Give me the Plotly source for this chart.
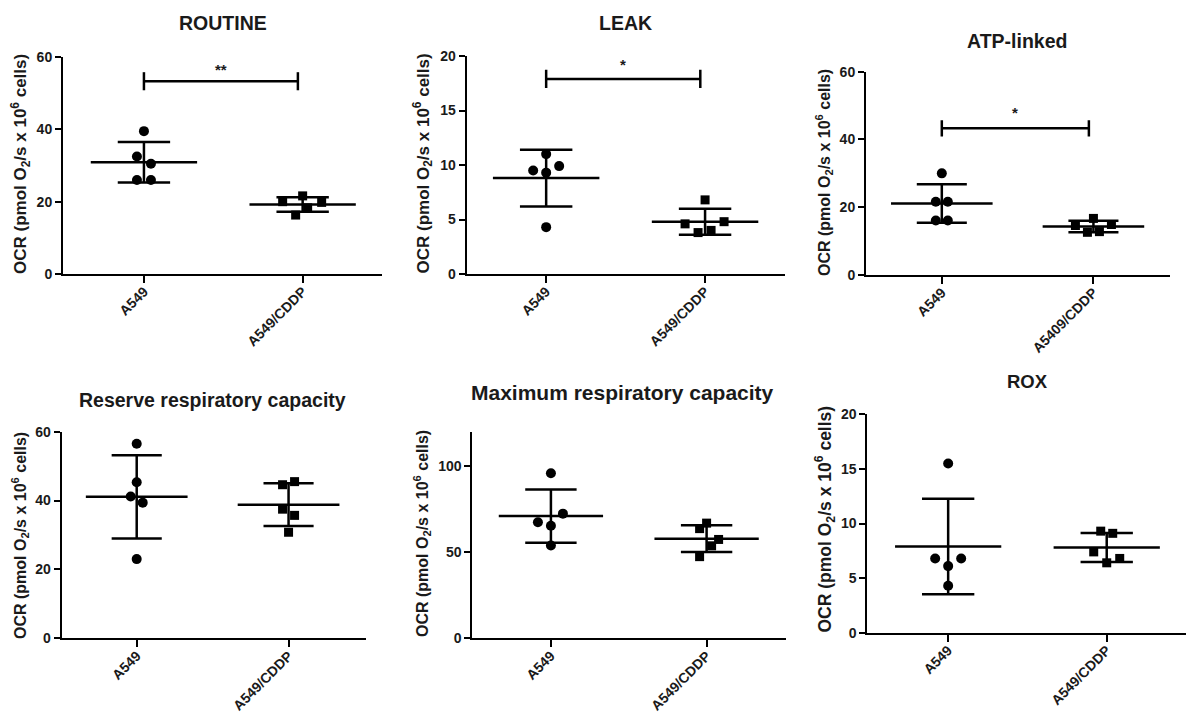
import numpy as np
import plotly.graph_objects as go

# ---------------- DATA ----------------
TITLES = ["ROUTINE", "LEAK", "ATP-linked",
          "Reserve respiratory capacity", "Maximum respiratory capacity", "ROX"]
GROUPS = ["A549", "A549/CDDP"]
GROUPS_ATP = ["A549", "A5409/CDDP"]

ROUTINE_A549 = [39.5, 32.5, 30.5, 26.0, 26.0]
ROUTINE_CDDP = [21.6, 20.0, 19.8, 18.3, 16.3]
LEAK_A549 = [11.0, 9.5, 9.3, 9.9, 4.3]
LEAK_CDDP = [6.8, 4.6, 4.8, 3.8, 4.0]
ATP_A549 = [30.0, 21.6, 21.6, 16.1, 16.1]
ATP_CDDP = [16.7, 14.6, 14.9, 12.6, 12.8]
RESERVE_A549 = [56.5, 45.3, 41.2, 39.4, 23.0]
RESERVE_CDDP = [45.5, 44.6, 37.5, 35.7, 30.8]
MAX_A549 = [96.0, 72.5, 67.5, 65.5, 54.0]
MAX_CDDP = [67.0, 63.8, 57.5, 53.8, 47.5]
ROX_A549 = [15.5, 6.8, 6.8, 6.1, 4.3]
ROX_CDDP = [9.3, 9.1, 7.4, 6.4, 6.8]

Y_TICKS = [[0, 20, 40, 60], [0, 5, 10, 15, 20], [0, 20, 40, 60],
           [0, 20, 40, 60], [0, 50, 100], [0, 5, 10, 15, 20]]
Y_MAX = [60, 20, 60, 60, 120, 20]
SIG_LABELS = ["**", "*", "*", None, None, None]
YTITLE = "OCR (pmol O<sub>2</sub>/s x 10<sup>6</sup> cells)"

# ---------------- LAYOUT / STYLE ----------------
W, H = 1187, 716
# plot area in px: left, right, top, bottom ; x range
GEOM = [
    dict(l=63, r=382, t=57, b=274, xr=[-0.51, 1.50]),
    dict(l=466.7, r=785, t=56, b=274, xr=[-0.50, 1.503]),
    dict(l=866, r=1170, t=71.7, b=275, xr=[-0.50, 1.505]),
    dict(l=61.7, r=366, t=431.7, b=638.3, xr=[-0.494, 1.51]),
    dict(l=472.3, r=786, t=432, b=638.3, xr=[-0.505, 1.51]),
    dict(l=867.3, r=1186, t=414.3, b=632.7, xr=[-0.51, 1.50]),
]
# horizontal jitter of points (px)
JITTER = [
    ([0, -7, 7, -7, 7], [0, -20, 19, 5, -7]),
    ([0, -13, 0, 13, 0], [0, -20, 19, -7, 6]),
    ([0, -6, 6, -6, 6], [0, -18, 18, -6, 6]),
    ([0, 0, -6, 6, 0], [6, -6, -6, 6, 0]),
    ([0, 12, -13, 0, 0], [0, -7, 12, 5, -7]),
    ([0, -13, 13, 0, 0], [-6, 6, -13, 0, 13]),
]
# significance bar: y (data), cap half-height (data), asterisk y (data)
SIG_GEOM = [(53.3, 2.5, 56.5), (17.9, 0.83, 19.2), (43.3, 2.4, 47.9), None, None, None]
# title centre (px), font size
TITLE_POS = [(223, 23, 19.5), (625, 23, 19.5), (1017, 41.5, 19.5),
             (212, 400, 19.5), (622, 392, 21), (1027, 381.5, 18.5)]
# y-title centre (px), font size
YT_POS = [(20, 164, 17), (422.5, 164, 17), (823.5, 172.5, 16),
          (19.5, 535.5, 16), (422, 534, 16), (824.5, 519, 17.5)]

FONT = "Liberation Sans, Arial, sans-serif"
TXT = "#1a1a1a"

datasets = [(ROUTINE_A549, ROUTINE_CDDP), (LEAK_A549, LEAK_CDDP), (ATP_A549, ATP_CDDP),
            (RESERVE_A549, RESERVE_CDDP), (MAX_A549, MAX_CDDP), (ROX_A549, ROX_CDDP)]

fig = go.Figure()
layout = {}
annotations = []

for i, (g, data) in enumerate(zip(GEOM, datasets)):
    sfx = "" if i == 0 else str(i + 1)
    xa, ya = "x" + sfx, "y" + sfx
    ppu = (g["r"] - g["l"]) / (g["xr"][1] - g["xr"][0])
    cats = GROUPS_ATP if i == 2 else GROUPS

    lx, ly = [], []
    for k, vals in enumerate(data):
        vals = np.array(vals, dtype=float)
        offs = np.array(JITTER[i][k], dtype=float) / ppu
        fig.add_trace(go.Scatter(
            x=k + offs, y=vals, mode="markers",
            marker=dict(symbol="circle" if k == 0 else "square",
                        size=10 if k == 0 else 9, color="black", line=dict(width=0)),
            xaxis=xa, yaxis=ya, cliponaxis=False, showlegend=False, hoverinfo="y"))
        m = vals.mean()
        s = vals.std(ddof=1)
        hw, cw = 0.335, 0.165
        lx += [k - hw, k + hw, None, k, k, None, k - cw, k + cw, None, k - cw, k + cw, None]
        ly += [m, m, None, m - s, m + s, None, m + s, m + s, None, m - s, m - s, None]

    sg = SIG_GEOM[i]
    if sg is not None:
        y0, c, ya_ast = sg
        x1 = 0.97
        lx += [0, x1, None, 0, 0, None, x1, x1, None]
        ly += [y0, y0, None, y0 - c, y0 + c, None, y0 - c, y0 + c, None]
        annotations.append(dict(x=x1 / 2, y=ya_ast, xref=xa, yref=ya, text=SIG_LABELS[i],
                                showarrow=False, xanchor="center", yanchor="middle",
                                font=dict(family=FONT, size=15, color=TXT, weight="bold")))

    fig.add_trace(go.Scatter(x=lx, y=ly, mode="lines",
                             line=dict(color="black", width=2.5),
                             xaxis=xa, yaxis=ya, cliponaxis=False,
                             showlegend=False, hoverinfo="skip"))

    layout["xaxis" + sfx] = dict(
        domain=[g["l"] / W, g["r"] / W], range=g["xr"], anchor=ya,
        tickmode="array", tickvals=[0, 1], ticktext=cats, tickangle=-45,
        showline=True, linecolor="black", linewidth=2,
        ticks="outside", ticklen=7, tickwidth=2, tickcolor="black",
        ticklabelstandoff=-5,
        showgrid=False, zeroline=False, automargin=False,
        tickfont=dict(family=FONT, size=14, color=TXT, weight="bold"))
    layout["yaxis" + sfx] = dict(
        domain=[1 - g["b"] / H, 1 - g["t"] / H], range=[0, Y_MAX[i]], anchor=xa,
        tickmode="array", tickvals=Y_TICKS[i],
        showline=True, linecolor="black", linewidth=2,
        ticks="outside", ticklen=6, tickwidth=2, tickcolor="black",
        showgrid=False, zeroline=False, automargin=False,
        tickfont=dict(family=FONT, size=14, color=TXT, weight="bold"))

    tx, ty, ts = TITLE_POS[i]
    annotations.append(dict(x=tx / W, y=1 - ty / H, xref="paper", yref="paper",
                            text=TITLES[i], showarrow=False, xanchor="center", yanchor="middle",
                            font=dict(family=FONT, size=ts, color=TXT, weight="bold")))
    yx, yy, ys = YT_POS[i]
    annotations.append(dict(x=yx / W, y=1 - yy / H, xref="paper", yref="paper",
                            text=YTITLE, textangle=-90, showarrow=False,
                            xanchor="center", yanchor="middle",
                            font=dict(family=FONT, size=ys, color=TXT, weight="bold")))

fig.update_layout(**layout)
fig.update_layout(width=W, height=H,
                  margin=dict(l=0, r=0, t=0, b=0, pad=0, autoexpand=False),
                  paper_bgcolor="white", plot_bgcolor="white",
                  annotations=annotations, showlegend=False)

fig.write_html("out.html")
